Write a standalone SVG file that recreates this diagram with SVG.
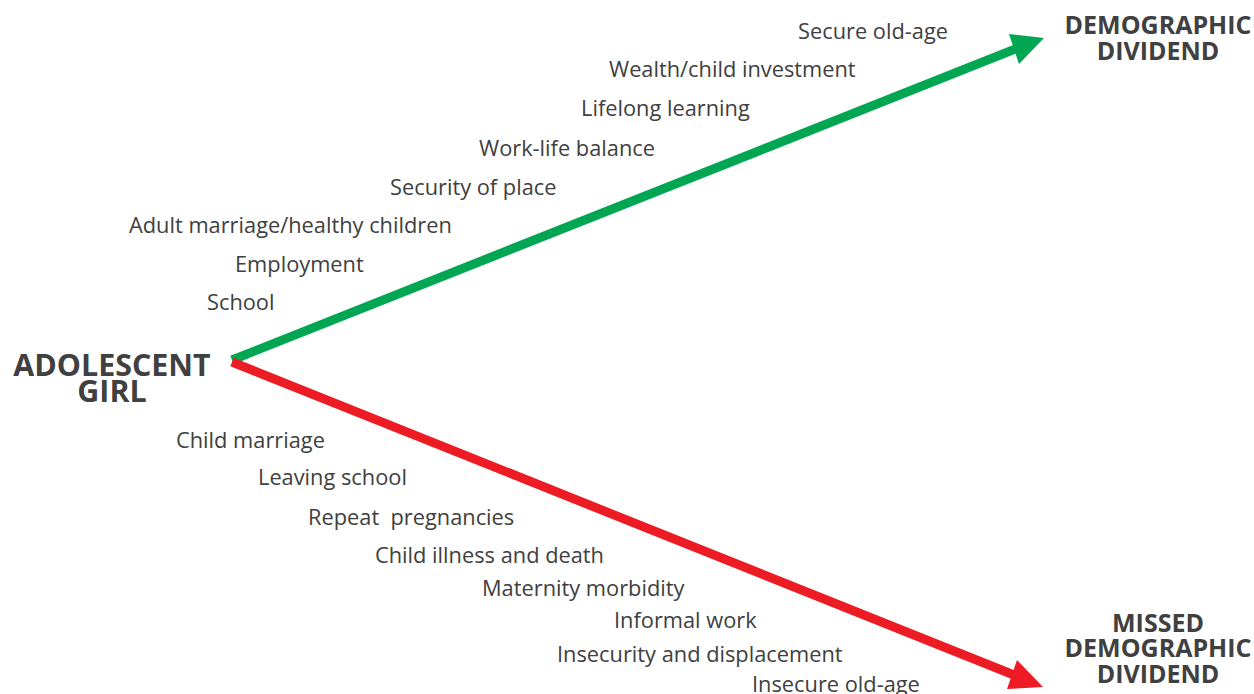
<svg xmlns="http://www.w3.org/2000/svg" width="1254" height="694" viewBox="0 0 1254 694">
<style>
.lbl{font-family:"Open Sans","Liberation Sans",sans-serif;font-size:21.8px;fill:#404040;white-space:pre}
.hd{font-family:"Open Sans","Liberation Sans",sans-serif;font-weight:bold;fill:#404040;text-anchor:middle}
</style>
<rect width="1254" height="694" fill="#ffffff"/>
<g id="connectors">
<line x1="232" y1="360" x2="1018" y2="48" stroke="#00A651" stroke-width="9"/>
<polygon points="1044,38 1009,34 1019,64" fill="#00A651"/>
<line x1="232" y1="362" x2="1014" y2="675" stroke="#ED1C24" stroke-width="9"/>
<polygon points="1043,687 1017,660 1007,689" fill="#ED1C24"/>
</g>
<g id="adolescent-girl">
<text class="hd" x="112" y="376" font-size="30.4">ADOLESCENT</text>
<text class="hd" x="112" y="402" font-size="30.4">GIRL</text>
</g>
<g id="demographic-dividend">
<text class="hd" x="1158" y="34" font-size="25">DEMOGRAPHIC</text>
<text class="hd" x="1158" y="60" font-size="25">DIVIDEND</text>
</g>
<g id="missed-demographic-dividend">
<text class="hd" x="1158" y="632" font-size="25">MISSED</text>
<text class="hd" x="1158" y="657" font-size="25">DEMOGRAPHIC</text>
<text class="hd" x="1158" y="683" font-size="25">DIVIDEND</text>
</g>
<g id="positive-outcomes">
<text class="lbl" x="798" y="39">Secure old-age</text>
<text class="lbl" x="609" y="77">Wealth/child investment</text>
<text class="lbl" x="581" y="116">Lifelong learning</text>
<text class="lbl" x="479" y="156">Work-life balance</text>
<text class="lbl" x="390" y="195">Security of place</text>
<text class="lbl" x="129" y="233">Adult marriage/healthy children</text>
<text class="lbl" x="235" y="272">Employment</text>
<text class="lbl" x="207" y="310">School</text>
</g>
<g id="negative-outcomes">
<text class="lbl" x="176" y="448">Child marriage</text>
<text class="lbl" x="258" y="485">Leaving school</text>
<text class="lbl" x="308" y="525">Repeat  pregnancies</text>
<text class="lbl" x="375" y="563">Child illness and death</text>
<text class="lbl" x="482" y="596">Maternity morbidity</text>
<text class="lbl" x="614" y="628">Informal work</text>
<text class="lbl" x="557" y="662">Insecurity and displacement</text>
<text class="lbl" x="752" y="692">Insecure old-age</text>
</g>
</svg>
